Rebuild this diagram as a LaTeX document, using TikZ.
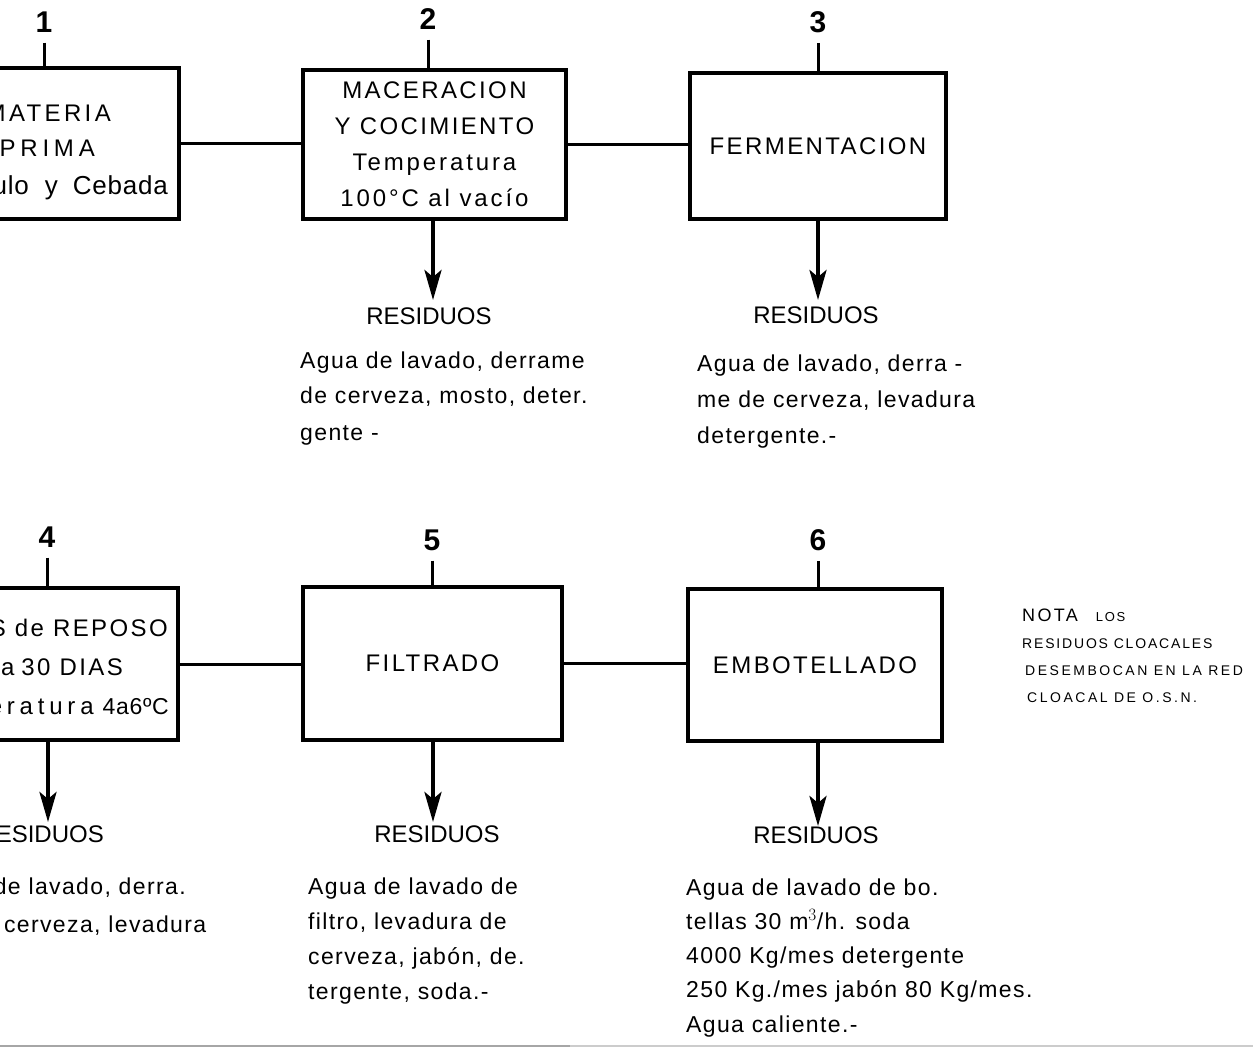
\documentclass[tikz,border=0pt]{standalone}
\usepackage{fontspec}
\setmainfont{Liberation Sans}
\newfontfamily\boxcaps{Liberation Sans}[LetterSpace=10]
\newfontfamily\boxlow{Liberation Sans}[LetterSpace=12]
\newfontfamily\boxmid{Liberation Sans}[LetterSpace=14]
\newfontfamily\boxwide{Liberation Sans}[LetterSpace=20]
\newfontfamily\boxtight{Liberation Sans}[LetterSpace=3]
\newfontfamily\handtxt{Liberation Sans}[LetterSpace=6]
\newfontfamily\notefont{Liberation Sans}[LetterSpace=13]
\newfontfamily\notewide{Liberation Sans}[LetterSpace=18]
\usetikzlibrary{arrows.meta}

\tikzset{
  proc/.style={draw, line width=3.4pt, inner sep=0pt, align=center,
               font={\fontsize{24}{36}\selectfont}},
  boxline/.style={inner sep=0pt, anchor=east, font={\fontsize{24}{24}\selectfont}},
  num/.style={inner sep=0pt, font={\fontsize{30}{30}\selectfont\bfseries}},
  tick/.style={line width=3pt, shorten <=10pt},
  link/.style={line width=3pt},
  waste/.style={line width=4pt, -{Stealth[width=17pt,length=30pt,inset=7pt]}},
  restitle/.style={inner sep=0pt, font={\fontsize{24}{24}\selectfont}},
  restext/.style={inner sep=0pt, anchor=base west, align=left,
                  font={\fontsize{23}{36}\selectfont\handtxt}},
}

\begin{document}
\begin{tikzpicture}[x=1pt, y=-1pt]
\useasboundingbox (0,0) rectangle (1253,1048);
\clip (0,0) rectangle (1253,1048);
\fill[white] (0,0) rectangle (1253,1048);

% ---- upper row: process boxes ----
\node[proc, minimum width=260, minimum height=151] (b1) at (49,143.5) {};
\node[boxline] (b1a) at (111,113) {\boxmid MATERIA};
\node[boxline] (b1b) at (95,148) {\boxwide PRIMA};
\node[boxline, font={\fontsize{26}{26}\selectfont}] (b1c) at (168,188)
  {\boxtight Lúpulo\hspace{16pt}y\hspace{15pt}Cebada};

\node[proc, minimum width=263, minimum height=149] (b2) at (434.5,144.5)
  {\boxcaps MACERACION\\ \boxcaps Y COCIMIENTO\\ \boxlow Temperatura\\ \boxlow 100°C al vacío};
\node[proc, minimum width=256, minimum height=146] (b3) at (818,146)
  {\boxcaps FERMENTACION};

% ---- lower row: process boxes ----
\node[proc, minimum width=260, minimum height=152] (b4) at (48,664) {};
\node[boxline] (b4a) at (168,628) {\boxcaps CUBAS de REPOSO};
\node[boxline] (b4b) at (123,667) {\boxcaps 20 a\hspace{7pt}30 DIAS};
\node[boxline] (b4c) at (169,709)
  {\boxwide Temperatura\hspace{9pt}{\fontsize{23}{23}\selectfont\boxtight 4a6ºC}};

\node[proc, minimum width=259, minimum height=153] (b5) at (432.5,663.5)
  {\boxcaps FILTRADO};
\node[proc, minimum width=254, minimum height=152] (b6) at (815,665)
  {\boxcaps EMBOTELLADO};

% ---- step numbers ----
\node[num] (n1) at (44,22) {1};
\node[num] (n2) at (428,19) {2};
\node[num] (n3) at (818,22) {3};
\node[num] (n4) at (47,537) {4};
\node[num] (n5) at (432,540) {5};
\node[num] (n6) at (818,540) {6};
\foreach \i in {1,...,6}
  \draw[tick] (n\i.south) -- (n\i.south |- b\i.north);

% ---- links between steps ----
\draw[link] (b1.east) -- (b1.east -| b2.west);
\draw[link] (b2.east) -- (b2.east -| b3.west);
\draw[link] (b4.east) -- (b4.east -| b5.west);
\draw[link] (b5.east) -- (b5.east -| b6.west);

% ---- waste outlets ----
\coordinate (t2) at (433,300);
\coordinate (t3) at (818,300);
\coordinate (t4) at (48,822);
\coordinate (t5) at (433,822);
\coordinate (t6) at (818,826);
\foreach \i in {2,...,6}
  \draw[waste] (b\i.south -| t\i) -- (t\i);

\node[restitle] (r2) at (429,316) {RESIDUOS};
\node[restitle] (r3) at (816,315) {RESIDUOS};
\node[restitle, anchor=east] (r4) at (104,834) {RESIDUOS};
\node[restitle] (r5) at (437,834) {RESIDUOS};
\node[restitle] (r6) at (816,835) {RESIDUOS};

% (base anchor of a multi-line text sits on its last line)
\node[restext] (d2) at (300,440)
  {Agua de lavado, derrame\\ de cerveza, mosto, deter.\\ gente -};
\node[restext] (d3) at (697,443)
  {Agua de lavado, derra -\\ me de cerveza, levadura\\ detergente.-};
\node[restext, font={\fontsize{23}{38}\selectfont\handtxt}] (d4) at (-72,932)
  {Agua de lavado, derra.\\ me de cerveza, levadura};
\node[restext, font={\fontsize{23}{35}\selectfont\handtxt}] (d5) at (308,999)
  {Agua de lavado de\\ filtro, levadura de\\ cerveza, jabón, de.\\ tergente, soda.-};
\node[restext, font={\fontsize{23}{34.25}\selectfont\handtxt}] (d6) at (686,1032)
  {Agua de lavado de bo.\\ tellas 30 m$^3$/h. soda\\ 4000 Kg/mes detergente\\
   250 Kg./mes jabón 80 Kg/mes.\\ Agua caliente.-};

% ---- note ----
\node[inner sep=0pt, anchor=base west, align=left,
      font={\fontsize{14}{27}\selectfont\notefont}] (nota) at (1022,702)
  {{\fontsize{18}{27}\selectfont NOTA}\hspace{18pt}{\fontsize{13}{27}\selectfont LOS}\\
   RESIDUOS CLOACALES\\ \hspace{3pt}{\notewide DESEMBOCAN EN LA RED}\\
   \hspace{5pt}{\notewide CLOACAL DE O.S.N.}};

% ---- sheet edge ----
\draw[gray!70, line width=2.5pt] (0,1046) -- (570,1046);
\draw[gray!40, line width=1.5pt] (570,1046) -- (1253,1046);
\end{tikzpicture}
\end{document}
